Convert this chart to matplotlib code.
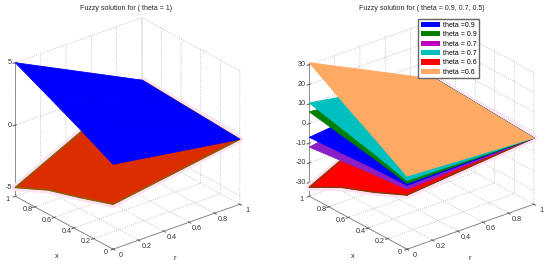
import numpy as np
import matplotlib
matplotlib.use('Agg')
import matplotlib.pyplot as plt
from matplotlib.patches import Patch
from mpl_toolkits.mplot3d import proj3d

plt.rcParams['font.family'] = ['Liberation Sans', 'DejaVu Sans']

# 取值都是从图上读出来的
r_grid = [0, 1]
x_grid = [0, 1/3, 2/3, 1]
ticks = [0, 0.2, 0.4, 0.6, 0.8, 1]
tick_labels = ['0', '0.2', '0.4', '0.6', '0.8', '1']

# 左图, r=0 和 r=1 两条边
left_blue_r0 = [1.1, 2.46, 3.74, 5]
left_blue_r1 = [-0.5, -0.33, -0.17, 0]
left_red_r0 = [-2.1, -2.98, -3.78, -5]
left_red_r1 = [-0.5, -0.33, -0.17, 0]
left_zticks = [-5, 0, 5]

# 右图
right_r1 = [-3.3, -2.3, -1.3, -0.3]
orange_r0 = [0.2, 10.5, 20.5, 31]
cyan_r0 = [-2.0, 2.5, 6.5, 10.5]
green_r0 = [-3.5, 0.0, 3.0, 6.0]
blue_r0 = [-4.5, -5.0, -6.0, -7.0]
purple_r0 = [-6.5, -8.0, -10.0, -12.0]
red_r0 = [-9.4, -17.0, -23.5, -32.4]
right_zticks = [-30, -20, -10, 0, 10, 20, 30]

legend_labels = ['theta =0.9', 'theta = 0.9', 'theta = 0.7', 'theta = 0.7', 'theta = 0.6', 'theta =0.6']
legend_colors = ['#0000ff', '#007f00', '#bf00bf', '#00bfbf', '#ff0000', '#ffaa64']

W, H = 550, 269
fig = plt.figure(figsize=(W / 100, H / 100), dpi=100)


def tick_text(ax, r, x, z, s, dx, dy, ha='center'):
    # 先投影到屏幕, 再按像素偏移
    px, py, _ = proj3d.proj_transform(r, x, z, ax.get_proj())
    ax.annotate(s, xy=(px, py), xycoords='data', xytext=(dx, dy), textcoords='offset pixels',
                fontsize=5.2, color='#333333', ha=ha, va='center', annotation_clip=False, zorder=20)


def make_axes(cx, cy, side, zlim, zticks):
    # cx, cy 是像素中心
    ax = fig.add_axes([(cx - side / 2) / W, 1 - (cy + side / 2) / H, side / W, side / H],
                      projection='3d', computed_zorder=False)
    ax.patch.set_alpha(0)
    ax.set_proj_type('ortho')
    ax.view_init(elev=26, azim=-129)
    ax.set_box_aspect((1.049, 1, 0.956), zoom=1.0)
    ax.set_xlim(0, 1)
    ax.set_ylim(0, 1)
    ax.set_zlim(*zlim)
    ax.set_xticks(ticks)
    ax.set_xticklabels([''] * len(ticks))
    ax.set_yticks(ticks)
    ax.set_yticklabels([''] * len(ticks))
    ax.set_zticks(zticks)
    ax.set_zticklabels([''] * len(zticks))
    ax.tick_params(length=2, width=0.4, colors='#666666')
    for axis in (ax.xaxis, ax.yaxis, ax.zaxis):
        axis.set_pane_color((1, 1, 1, 0))
        axis.pane.set_edgecolor('#b4b4b4')
        axis.pane.set_linestyle(':')
        axis.pane.set_linewidth(0.6)
        axis.line.set_color('#808080')
        axis.line.set_linewidth(0.6)
        axis._axinfo['grid'].update(color='#b4b4b4', linestyle=':', linewidth=0.6)
    ax.zaxis.set_ticks_position('upper')
    for t, s in zip(ticks, tick_labels):
        tick_text(ax, t, 0, zlim[0], s, 8, -6)
        tick_text(ax, 0, t, zlim[0], s, -7.5, -3)
    for z in zticks:
        tick_text(ax, 0, 1, z, str(z), -3.5, 0, ha='right')
    return ax


def surf(ax, z_r0, z_r1, color, order, edge=None, halo=None):
    R, X = np.meshgrid(r_grid, x_grid)
    Z = np.column_stack([z_r0, z_r1])
    # 边界: r=0 这条边, 再绕 r=1 回来
    er = [0] * len(x_grid) + [1] * len(x_grid) + [0]
    ex = list(x_grid) + list(x_grid)[::-1] + [0]
    ez = list(z_r0) + list(z_r1)[::-1] + [z_r0[0]]
    if halo:
        ax.plot(er, ex, ez, color=halo, linewidth=5, zorder=order - 0.2, solid_capstyle='round')
    ax.plot_surface(R, X, Z, color=color, shade=False, edgecolor=color, linewidth=0.6, zorder=order)
    if edge:
        ax.plot(er, ex, ez, color=edge, linewidth=1.0, zorder=order + 0.1)


def label(px, py, s, **kw):
    fig.text(px / W, 1 - py / H, s, ha='center', va='center', color='#222222', **kw)


# 左图
ax1 = make_axes(124, 137, 262, (-5.7, 5), left_zticks)
surf(ax1, left_red_r0, left_red_r1, '#dc2d00', 2, edge='#7f6400', halo='#ffe0f4')
surf(ax1, left_blue_r0, left_blue_r1, '#0000ff', 3)

# 右图
ax2 = make_axes(418, 137, 262, (-37, 31), right_zticks)
surf(ax2, red_r0, right_r1, '#ff0000', 2, edge='#7f3c00', halo='#ffe0f4')
surf(ax2, purple_r0, right_r1, '#8a1fc8', 3)
surf(ax2, blue_r0, right_r1, '#0000ff', 4)
surf(ax2, green_r0, right_r1, '#007f00', 5)
surf(ax2, cyan_r0, right_r1, '#00bfbf', 6)
surf(ax2, orange_r0, right_r1, '#ffaa64', 7)

label(126, 8, 'Fuzzy solution for ( theta = 1)', fontsize=5)
label(422, 8, 'Fuzzy solution for ( theta = 0.9, 0.7, 0.5)', fontsize=5)
label(57, 256, 'x', fontsize=5.2)
label(175, 259, 'r', fontsize=5.2)
label(353, 257, 'x', fontsize=5.2)
label(470, 259, 'r', fontsize=5.2)

handles = [Patch(facecolor=c, label=l) for c, l in zip(legend_colors, legend_labels)]
fig.legend(handles=handles, loc='upper left', bbox_to_anchor=(418 / W, 1 - 19 / H), fontsize=5,
           fancybox=False, edgecolor='#666666', framealpha=1, borderaxespad=0, labelspacing=0.33,
           handlelength=2.8, handleheight=0.8, handletextpad=0.35, borderpad=0.4)

fig.savefig('out.png', dpi=100)
